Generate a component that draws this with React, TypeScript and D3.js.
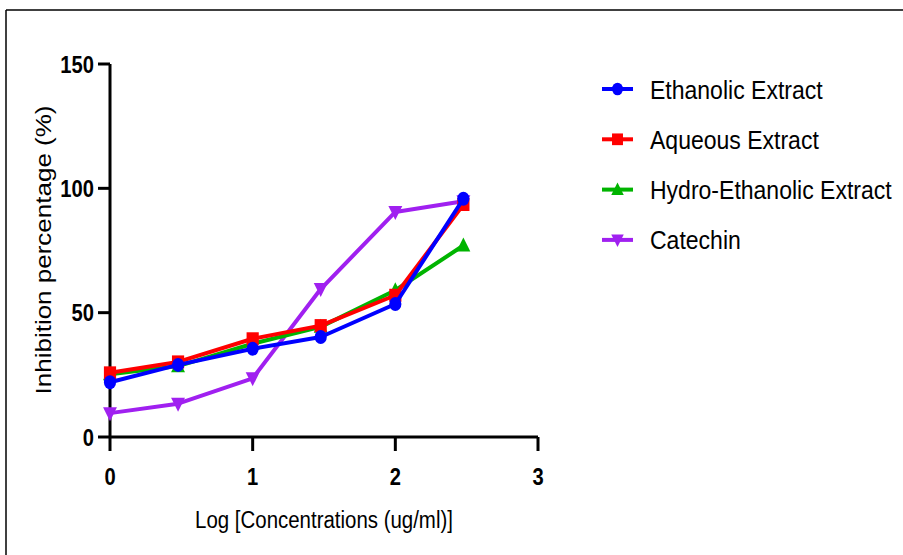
import React from "react";
import * as d3 from "d3";

const xValues = [0, 0.477, 1, 1.477, 2, 2.477];
const ethanolic = [22, 29, 35.5, 40.2, 53.5, 95.8];
const aqueous = [25.8, 30.2, 39.5, 44.8, 57, 93.5];
const hydro = [25.2, 28.5, 37.5, 44.3, 59, 77];
const catechin = [9.6, 13.4, 23.6, 59.5, 90.5, 94.8];

const xTicks = [0, 1, 2, 3];
const yTicks = [0, 50, 100, 150];

const seriesNames = ["Ethanolic Extract", "Aqueous Extract", "Hydro-Ethanolic Extract", "Catechin"];
const seriesColors = ["#0000ff", "#ff0000", "#00b400", "#a020f0"];
const seriesShapes = ["circle", "square", "triangleUp", "triangleDown"];
const seriesValues = [ethanolic, aqueous, hydro, catechin];

const SX = 0.87;
const FONT = "'Liberation Sans', Arial, Helvetica, sans-serif";

function Marker({ shape, color, x, y, s }: { shape: string; color: string; x: number; y: number; s: number }) {
  let el: React.ReactNode = null;
  if (shape === "circle") el = <circle r={7 * s} fill={color} />;
  else if (shape === "square") el = <rect x={-7 * s} y={-6.5 * s} width={14 * s} height={13 * s} fill={color} />;
  else if (shape === "triangleUp")
    el = <path d={`M0,${-8 * s}L${8 * s},${6 * s}L${-8 * s},${6 * s}Z`} fill={color} />;
  else el = <path d={`M0,${8 * s}L${8 * s},${-6 * s}L${-8 * s},${-6 * s}Z`} fill={color} />;
  return <g transform={`translate(${x},${y}) scale(${SX},1)`}>{el}</g>;
}

export default function App() {
  const W = 903, H = 555;
  const x = d3.scaleLinear().domain([0, 3]).range([110, 538]);
  const y = d3.scaleLinear().domain([0, 150]).range([437, 64]);
  const line = d3.line<number>().x((_, i) => x(xValues[i])).y((v) => y(v));
  const order = [3, 2, 1, 0];

  return (
    <svg width={W} height={H} style={{ position: "absolute", left: 0, top: 0, background: "#fff" }} fontFamily={FONT}>
      <rect x={0} y={0} width={W} height={H} fill="#fff" />
      {/* frame */}
      <line x1={6} y1={10} x2={W} y2={10} stroke="#000" strokeWidth={1.5} />
      <line x1={6} y1={10} x2={6} y2={H} stroke="#000" strokeWidth={1.5} />

      {/* axes */}
      <line x1={x(0)} y1={y(0)} x2={x(0)} y2={y(150)} stroke="#000" strokeWidth={3} />
      <line x1={x(0)} y1={y(0)} x2={x(3)} y2={y(0)} stroke="#000" strokeWidth={3} />
      {yTicks.map((t) => (
        <g key={"y" + t}>
          <line x1={x(0) - 12} x2={x(0)} y1={y(t)} y2={y(t)} stroke="#000" strokeWidth={3} />
          <text
            transform={`translate(${x(0) - 16},${y(t) + 8.5}) scale(0.84,1)`}
            textAnchor="end"
            fontSize={24}
            fontWeight="bold"
          >
            {t}
          </text>
        </g>
      ))}
      {xTicks.map((t) => (
        <g key={"x" + t}>
          <line x1={x(t)} x2={x(t)} y1={y(0)} y2={y(0) + 14} stroke="#000" strokeWidth={3} />
          <text
            transform={`translate(${x(t)},${y(0) + 48}) scale(0.84,1)`}
            textAnchor="middle"
            fontSize={24}
            fontWeight="bold"
          >
            {t}
          </text>
        </g>
      ))}

      {/* axis titles */}
      <text
        transform={`translate(${x(1.5)},528) scale(${SX},1)`}
        textAnchor="middle"
        fontSize={23.5}
      >
        Log [Concentrations (ug/ml)]
      </text>
      <text
        transform={`translate(51,250) rotate(-90) scale(1,${SX})`}
        textAnchor="middle"
        fontSize={26}
      >
        Inhibition percentage (%)
      </text>

      {/* series */}
      {order.map((k) => (
        <g key={"s" + k}>
          <path d={line(seriesValues[k]) || ""} fill="none" stroke={seriesColors[k]} strokeWidth={4} strokeLinejoin="round" />
          {seriesValues[k].map((v, i) => (
            <Marker key={i} shape={seriesShapes[k]} color={seriesColors[k]} x={x(xValues[i])} y={y(v)} s={1} />
          ))}
        </g>
      ))}

      {/* legend */}
      {seriesNames.map((n, k) => {
        const cy = 89 + k * 50.3;
        return (
          <g key={"l" + k}>
            <line x1={602} x2={633} y1={cy} y2={cy} stroke={seriesColors[k]} strokeWidth={4} />
            <Marker shape={seriesShapes[k]} color={seriesColors[k]} x={617.5} y={cy} s={0.9} />
            <text transform={`translate(650,${cy + 9.5}) scale(0.885,1)`} fontSize={26}>
              {n}
            </text>
          </g>
        );
      })}
    </svg>
  );
}
